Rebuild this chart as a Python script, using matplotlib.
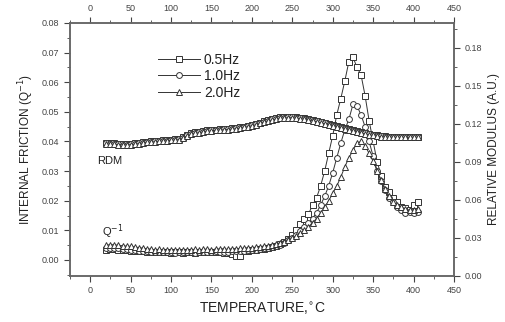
import numpy as np
import matplotlib
matplotlib.use('Agg')
import matplotlib.pyplot as plt
from matplotlib.ticker import MultipleLocator

plt.rcParams['font.family'] = ['Liberation Sans', 'DejaVu Sans']

# temperature grid (deg C)
temp = np.arange(20, 410, 5)

# internal friction Q^-1 (left axis)
q_05 = [0.0035, 0.0038, 0.0036, 0.0034, 0.0035, 0.0033, 0.0032, 0.0030, 0.0031, 0.0029,
        0.0028, 0.0027, 0.0026, 0.0028, 0.0027, 0.0026, 0.0025, 0.0027, 0.0026, 0.0025,
        0.0026, 0.0027, 0.0025, 0.0026, 0.0028, 0.0027, 0.0026, 0.0028, 0.0027, 0.0025,
        0.0024, 0.0020, 0.0012, 0.0015, 0.0030, 0.0032, 0.0033, 0.0035, 0.0036, 0.0038,
        0.0040, 0.0044, 0.0048, 0.0055, 0.0062, 0.0072, 0.0085, 0.0100, 0.0120, 0.0140,
        0.0155, 0.0185, 0.0210, 0.0250, 0.0300, 0.0360, 0.0420, 0.0490, 0.0545, 0.0605,
        0.0670, 0.0685, 0.0650, 0.0625, 0.0555, 0.0470, 0.0400, 0.0330, 0.0285, 0.0245,
        0.0230, 0.0210, 0.0195, 0.0180, 0.0175, 0.0170, 0.0185, 0.0195]
q_10 = [0.0040, 0.0042, 0.0041, 0.0040, 0.0038, 0.0036, 0.0035, 0.0033, 0.0032, 0.0031,
        0.0030, 0.0028, 0.0027, 0.0027, 0.0026, 0.0027, 0.0026, 0.0025, 0.0026, 0.0027,
        0.0028, 0.0026, 0.0025, 0.0027, 0.0028, 0.0027, 0.0028, 0.0029, 0.0028, 0.0027,
        0.0028, 0.0029, 0.0030, 0.0031, 0.0032, 0.0033, 0.0034, 0.0035, 0.0037, 0.0039,
        0.0042, 0.0045, 0.0048, 0.0052, 0.0058, 0.0066, 0.0075, 0.0085, 0.0098, 0.0110,
        0.0125, 0.0140, 0.0160, 0.0185, 0.0215, 0.0250, 0.0295, 0.0345, 0.0395, 0.0440,
        0.0475, 0.0525, 0.0520, 0.0490, 0.0450, 0.0400, 0.0350, 0.0300, 0.0265, 0.0235,
        0.0210, 0.0195, 0.0180, 0.0168, 0.0160, 0.0162, 0.0158, 0.0163]
q_20 = [0.0050, 0.0052, 0.0051, 0.0050, 0.0048, 0.0047, 0.0046, 0.0044, 0.0042, 0.0040,
        0.0038, 0.0036, 0.0035, 0.0036, 0.0034, 0.0035, 0.0033, 0.0034, 0.0035, 0.0033,
        0.0034, 0.0035, 0.0036, 0.0035, 0.0036, 0.0037, 0.0035, 0.0036, 0.0037, 0.0038,
        0.0036, 0.0037, 0.0038, 0.0039, 0.0040, 0.0041, 0.0042, 0.0043, 0.0044, 0.0046,
        0.0048, 0.0050, 0.0053, 0.0057, 0.0062, 0.0068, 0.0074, 0.0082, 0.0090, 0.0100,
        0.0112, 0.0125, 0.0140, 0.0158, 0.0178, 0.0200, 0.0225, 0.0250, 0.0280, 0.0315,
        0.0345, 0.0370, 0.0395, 0.0400, 0.0385, 0.0360, 0.0335, 0.0300, 0.0270, 0.0240,
        0.0215, 0.0195, 0.0185, 0.0178, 0.0172, 0.0168, 0.0170, 0.0172]

# relative modulus (right axis)
m_05 = [0.1050, 0.1048, 0.1045, 0.1043, 0.1040, 0.1040, 0.1042, 0.1045, 0.1050, 0.1055,
        0.1060, 0.1062, 0.1065, 0.1068, 0.1070, 0.1072, 0.1075, 0.1078, 0.1082, 0.1095,
        0.1115, 0.1125, 0.1132, 0.1138, 0.1143, 0.1148, 0.1152, 0.1155, 0.1158, 0.1160,
        0.1162, 0.1165, 0.1168, 0.1172, 0.1178, 0.1185, 0.1192, 0.1200, 0.1210, 0.1220,
        0.1230, 0.1238, 0.1244, 0.1250, 0.1253, 0.1255, 0.1255, 0.1252, 0.1248, 0.1243,
        0.1237, 0.1230, 0.1223, 0.1215, 0.1207, 0.1198, 0.1190, 0.1182, 0.1175, 0.1168,
        0.1160, 0.1152, 0.1145, 0.1138, 0.1130, 0.1122, 0.1115, 0.1108, 0.1103, 0.1100,
        0.1098, 0.1097, 0.1096, 0.1096, 0.1096, 0.1096, 0.1097, 0.1097]
m_10 = [0.1045, 0.1043, 0.1040, 0.1038, 0.1036, 0.1036, 0.1038, 0.1041, 0.1046, 0.1051,
        0.1055, 0.1058, 0.1061, 0.1064, 0.1066, 0.1068, 0.1071, 0.1074, 0.1078, 0.1090,
        0.1110, 0.1120, 0.1128, 0.1134, 0.1139, 0.1144, 0.1148, 0.1151, 0.1154, 0.1156,
        0.1158, 0.1161, 0.1164, 0.1168, 0.1174, 0.1181, 0.1188, 0.1196, 0.1206, 0.1216,
        0.1226, 0.1234, 0.1240, 0.1246, 0.1249, 0.1251, 0.1251, 0.1248, 0.1244, 0.1239,
        0.1233, 0.1226, 0.1219, 0.1211, 0.1203, 0.1194, 0.1186, 0.1178, 0.1170, 0.1162,
        0.1154, 0.1146, 0.1138, 0.1131, 0.1124, 0.1117, 0.1111, 0.1105, 0.1101, 0.1098,
        0.1096, 0.1095, 0.1094, 0.1094, 0.1094, 0.1094, 0.1095, 0.1095]
m_20 = [0.1042, 0.1040, 0.1038, 0.1036, 0.1034, 0.1034, 0.1036, 0.1039, 0.1044, 0.1049,
        0.1053, 0.1056, 0.1059, 0.1062, 0.1064, 0.1066, 0.1069, 0.1072, 0.1076, 0.1086,
        0.1106, 0.1117, 0.1125, 0.1131, 0.1136, 0.1141, 0.1145, 0.1148, 0.1151, 0.1153,
        0.1155, 0.1158, 0.1161, 0.1165, 0.1171, 0.1178, 0.1185, 0.1193, 0.1203, 0.1213,
        0.1223, 0.1231, 0.1237, 0.1243, 0.1246, 0.1248, 0.1248, 0.1245, 0.1241, 0.1236,
        0.1230, 0.1223, 0.1216, 0.1208, 0.1200, 0.1191, 0.1183, 0.1175, 0.1167, 0.1159,
        0.1151, 0.1143, 0.1135, 0.1128, 0.1121, 0.1114, 0.1108, 0.1103, 0.1099, 0.1097,
        0.1095, 0.1094, 0.1093, 0.1093, 0.1093, 0.1093, 0.1094, 0.1094]

labels = ['0.5Hz', '1.0Hz', '2.0Hz']
markers = ['s', 'o', '^']

fig = plt.figure(figsize=(5.05, 3.22), dpi=100)
ax = fig.add_axes([0.1386, 0.1429, 0.7604, 0.7857])
ax2 = ax.twinx()

gray = '#444444'
style = dict(color='#333333', lw=0.7, ms=4.2, mfc='white', mec='#333333', mew=0.7)

handles = []
for q, mk, lab in zip([q_05, q_10, q_20], markers, labels):
    h, = ax.plot(temp, q, marker=mk, label=lab, **style)
    handles.append(h)
for m, mk in zip([m_05, m_10, m_20], markers):
    ax2.plot(temp, m, marker=mk, **style)

ax.set_xlim(-25, 450)
ax.set_ylim(-0.0054, 0.08)
ax2.set_ylim(0, 0.1995)

ax.xaxis.set_major_locator(MultipleLocator(50))
ax.xaxis.set_minor_locator(MultipleLocator(25))
ax.yaxis.set_major_locator(MultipleLocator(0.01))
ax.yaxis.set_minor_locator(MultipleLocator(0.005))
ax.yaxis.set_major_formatter(plt.FormatStrFormatter('%.2f'))
ax2.yaxis.set_major_locator(MultipleLocator(0.03))
ax2.yaxis.set_minor_locator(MultipleLocator(0.015))
ax2.yaxis.set_major_formatter(plt.FormatStrFormatter('%.2f'))

ax.tick_params(axis='x', which='both', top=True, labeltop=True, direction='out',
               labelsize=6.5, labelcolor=gray, color=gray)
ax.tick_params(axis='x', which='major', length=4)
ax.tick_params(axis='x', which='minor', length=2.5)
ax.tick_params(axis='y', which='both', direction='out', labelsize=6.5,
               labelcolor=gray, color=gray)
ax.tick_params(axis='y', which='major', length=4)
ax.tick_params(axis='y', which='minor', length=2.5)
ax2.tick_params(axis='y', which='both', direction='out', labelsize=6.5,
                labelcolor=gray, color=gray)
ax2.tick_params(axis='y', which='major', length=4)
ax2.tick_params(axis='y', which='minor', length=2.5)

for a in (ax, ax2):
    for s in a.spines.values():
        s.set_color('#666666')
        s.set_linewidth(1.1)

ax.set_xlabel('TEMPERATURE,$^{\\circ}$C', fontsize=10, color='#222222', labelpad=4)
ax.set_ylabel('INTERNAL FRICTION (Q$^{-1}$)', fontsize=8.5, color='#222222', labelpad=4)
ax2.set_ylabel('RELATIVE MODULUS (A.U.)', fontsize=8.5, color='#222222', labelpad=4)

ax.text(8, 0.0335, 'RDM', fontsize=8, color='#222222', va='center')
ax.text(14, 0.0095, 'Q$^{-1}$', fontsize=8, color='#222222', va='center')

leg = ax.legend(handles=handles, loc='upper left', bbox_to_anchor=(0.215, 0.905),
                frameon=False, fontsize=10, handlelength=3.0, handletextpad=0.3,
                labelspacing=0.2, borderaxespad=0)
for t in leg.get_texts():
    t.set_color('#222222')

fig.savefig('out.png', dpi=100)
